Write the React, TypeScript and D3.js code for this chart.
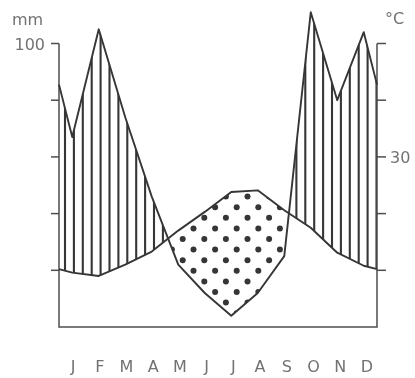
import React from "react";
import * as d3 from "d3";

// Monthly climate normals
const months = ["J", "F", "M", "A", "M", "J", "J", "A", "S", "O", "N", "D"];
const precipitation = [67, 105, 74, 46, 22, 12, 4, 12, 25, 111, 80, 104]; // mm
const temperature = [9.6, 9.0, 11.0, 13.3, 17.0, 20.3, 23.8, 24.1, 20.6, 17.5, 13.1, 10.8]; // °C
const precipTicks = [100, 80, 60, 40, 20];
const precipTickLabels = [100];
const tempTicks = [50, 40, 30, 20, 10];
const tempTickLabels = [30];

const W = 415;
const H = 378;
const INK = "#363636";
const AXIS = "#4d4d4d";
const FONT = "'DejaVu Sans', sans-serif";

// value of a monthly series at fractional month m, wrapping Dec -> Jan
function valueAt(values: number[], m: number): number {
  const i0 = Math.floor(m);
  const f = m - i0;
  const a = values[((i0 % 12) + 12) % 12];
  const b = values[(((i0 + 1) % 12) + 12) % 12];
  return a + (b - a) * f;
}

export default function App() {
  const x = d3.scaleLinear().domain([-0.5, 11.5]).range([59, 377]);
  const yP = d3.scaleLinear().domain([0, 100]).range([327, 43.5]);
  const yT = d3.scaleLinear().domain([0, 50]).range([327, 43.5]);
  const xLabel = d3.scalePoint<string>().domain(d3.range(12).map(String)).range([73, 367]);

  // vertices: the two edges plus every month
  const knots = [-0.5, ...d3.range(12), 11.5];
  // fine sampling for the humid/arid fills
  const fine = d3.range(0, 1201).map((k) => k / 100 - 0.5);

  const pLine = d3
    .line<number>()
    .x((m) => x(m))
    .y((m) => yP(valueAt(precipitation, m)));
  const tLine = d3
    .line<number>()
    .x((m) => x(m))
    .y((m) => yT(valueAt(temperature, m)));

  const humidArea = d3
    .area<number>()
    .x((m) => x(m))
    .y0((m) => yT(valueAt(temperature, m)))
    .y1((m) => Math.min(yP(valueAt(precipitation, m)), yT(valueAt(temperature, m))));
  const aridArea = d3
    .area<number>()
    .x((m) => x(m))
    .y0((m) => yT(valueAt(temperature, m)))
    .y1((m) => Math.max(yP(valueAt(precipitation, m)), yT(valueAt(temperature, m))));

  // vertical hatching for the humid season
  const hatchX = d3.range(65, 377, 8.9);
  // staggered dot lattice for the arid season
  const dots: { cx: number; cy: number }[] = [];
  d3.range(-3, 14).forEach((r) => {
    const cy = 196.6 + 10.6 * r;
    const base = r % 2 === 0 ? 247.5 : 236.7;
    d3.range(-6, 7).forEach((k) => dots.push({ cx: base + 21.6 * k, cy }));
  });

  const [y0, y1] = yP.range();
  const [x0, x1] = x.range();

  return (
    <svg
      width={W}
      height={H}
      viewBox={`0 0 ${W} ${H}`}
      style={{ position: "absolute", left: 0, top: 0, background: "#fff" }}
    >
      <defs>
        <clipPath id="humid">
          <path d={humidArea(fine) || ""} />
        </clipPath>
        <clipPath id="arid">
          <path d={aridArea(fine) || ""} />
        </clipPath>
        <filter id="gray" x="0" y="0" width="100%" height="100%">
          <feColorMatrix type="saturate" values="0" />
        </filter>
      </defs>

      {/* humid hatching */}
      <g clipPath="url(#humid)">
        {hatchX.map((hx, i) => (
          <line key={i} x1={hx} x2={hx} y1={0} y2={y0} stroke={INK} strokeWidth={2.1} />
        ))}
      </g>

      {/* arid dots */}
      <g clipPath="url(#arid)">
        {dots.map((d, i) => (
          <circle key={i} cx={d.cx} cy={d.cy} r={3} fill={INK} />
        ))}
      </g>

      {/* frame */}
      <path
        d={`M${x0},${y1} V${y0} H${x1} V${y1}`}
        fill="none"
        stroke={AXIS}
        strokeWidth={1.5}
      />
      {precipTicks.map((v) => (
        <line key={v} x1={x0 - 8} x2={x0} y1={yP(v)} y2={yP(v)} stroke={AXIS} strokeWidth={1.5} />
      ))}
      {tempTicks.map((v) => (
        <line key={v} x1={x1} x2={x1 + 9} y1={yT(v)} y2={yT(v)} stroke={AXIS} strokeWidth={1.5} />
      ))}

      {/* curves */}
      <path d={pLine(knots) || ""} fill="none" stroke={INK} strokeWidth={1.9} strokeLinejoin="round" />
      <path d={tLine(knots) || ""} fill="none" stroke={INK} strokeWidth={1.9} strokeLinejoin="round" />

      {/* text */}
      <g fontFamily={FONT} fontSize={16} fill="#727272" filter="url(#gray)">
        <text x={12} y={25} textLength={31}>mm</text>
        <text x={385} y={24}>°C</text>
        {precipTickLabels.map((v) => (
          <text key={v} x={x0 - 14} y={yP(v) + 6} textAnchor="end">
            {v}
          </text>
        ))}
        {tempTickLabels.map((v) => (
          <text key={v} x={x1 + 13} y={yT(v) + 6}>
            {v}
          </text>
        ))}
        {months.map((mo, i) => (
          <text key={i} x={xLabel(String(i))} y={371.5} textAnchor="middle">
            {mo}
          </text>
        ))}
      </g>
    </svg>
  );
}
